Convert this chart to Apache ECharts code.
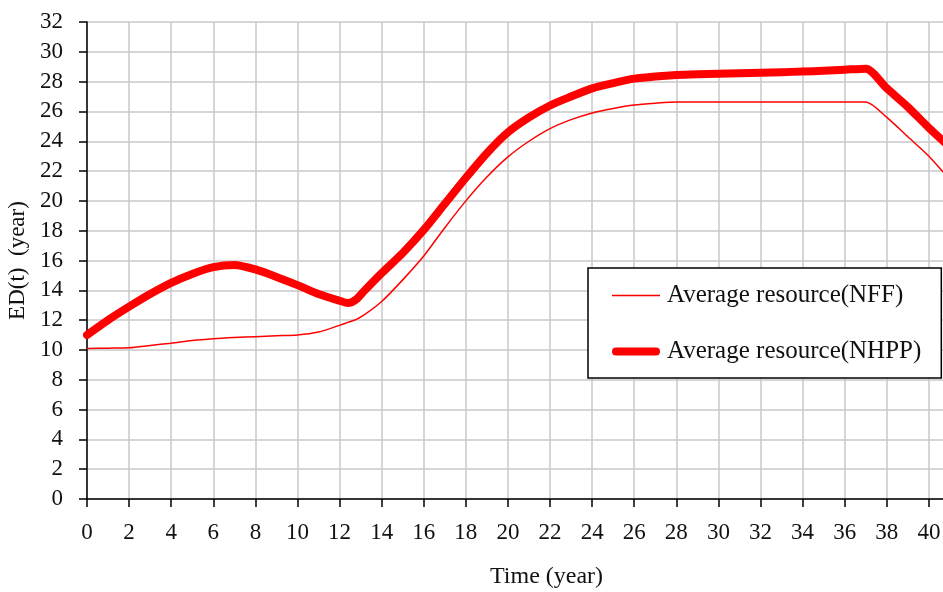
<!DOCTYPE html>
<html>
<head>
<meta charset="utf-8">
<script src="https://cdn.jsdelivr.net/npm/echarts@6/dist/echarts.min.js"></script>
<style>html,body{margin:0;padding:0;background:#fff;}#c{width:943px;height:592px;}</style>
</head>
<body>
<div id="c"></div>
<script>
const times = [0,1,2,3,4,5,6,7,8,9,10,11,12,12.4,12.8,13.2,14,15,16,17,18,19,20,21,22,23,24,25,26,27,28,29,30,31,32,33,34,35,36,37,38,39,40,41];
const nff   = [10.1,10.12,10.15,10.3,10.45,10.63,10.75,10.83,10.89,10.95,11.0,11.2,11.65,11.85,12.05,12.38,13.25,14.7,16.3,18.2,20.0,21.6,22.95,24.0,24.85,25.45,25.9,26.2,26.43,26.55,26.63,26.63,26.63,26.63,26.63,26.63,26.63,26.63,26.63,26.63,25.6,24.3,23.0,21.4];
const nhpp  = [11.0,12.0,12.9,13.75,14.5,15.1,15.55,15.7,15.4,14.9,14.35,13.75,13.3,13.15,13.4,14.0,15.15,16.5,18.05,19.8,21.55,23.2,24.6,25.6,26.4,27.0,27.55,27.9,28.2,28.35,28.45,28.5,28.53,28.56,28.6,28.63,28.68,28.73,28.8,28.87,27.55,26.3,24.9,23.6];
const seriesNames = ['Average resource(NFF)','Average resource(NHPP)'];
const xTitle = 'Time (year)';
const yTitle = 'ED(t)  (year)';

const font = "'Liberation Serif', serif";
const chart = echarts.init(document.getElementById('c'));
chart.setOption({
  animation: false,
  backgroundColor: '#fff',
  grid: { left: 87, top: 22, width: 884, height: 477, containLabel: false, outerBoundsMode: 'none' },
  xAxis: {
    type: 'value', min: 0, max: 42, interval: 2,
    axisLine: { show: true, onZero: false, lineStyle: { color: '#000', width: 1.5 } },
    axisTick: { show: true, inside: false, length: 8, lineStyle: { color: '#000', width: 1.5 } },
    axisLabel: { show: true, margin: 22, color: '#111', fontFamily: font, fontSize: 23, showMaxLabel: false },
    splitLine: { show: true, lineStyle: { color: '#c8c8c8', width: 1.5 } }
  },
  yAxis: {
    type: 'value', min: 0, max: 32, interval: 2,
    name: yTitle, nameLocation: 'middle', nameGap: 57, nameRotate: 90,
    nameTextStyle: { fontFamily: font, fontSize: 23, color: '#111' },
    axisLine: { show: true, onZero: false, lineStyle: { color: '#000', width: 1.5 } },
    axisTick: { show: true, inside: false, length: 8, lineStyle: { color: '#000', width: 1.5 } },
    axisLabel: { show: true, margin: 24, color: '#111', fontFamily: font, fontSize: 23 },
    splitLine: { show: true, lineStyle: { color: '#c8c8c8', width: 1.5 } }
  },
  legend: {
    show: true, orient: 'vertical', left: 588, top: 268,
    backgroundColor: '#fff', borderColor: '#000', borderWidth: 1.5, borderRadius: 0,
    padding: [15, 20, 14, 24], itemGap: 31, itemWidth: 48, itemHeight: 16,
    textStyle: { fontFamily: font, fontSize: 25, color: '#111', padding: [0,0,0,2] },
    data: [
      { name: seriesNames[0], icon: 'path://M0,7.25L48,7.25L48,8.75L0,8.75Z', itemStyle: { color: '#ff0000' } },
      { name: seriesNames[1], icon: 'path://M4,4L44,4A4,4,0,0,1,44,12L4,12A4,4,0,0,1,4,4Z', itemStyle: { color: '#ff0000' } }
    ]
  },
  graphic: [
    { type: 'text', left: 490, top: 565, style: { text: xTitle, fontFamily: font, fontSize: 24, fill: '#111' } }
  ],
  series: [
    { name: seriesNames[0], type: 'line', data: times.map((t,i)=>[t,nff[i]]), showSymbol: false, symbol: 'none',
      smooth: 0.25, lineStyle: { color: '#ff0000', width: 1.5 }, itemStyle: { color: '#ff0000' }, z: 3 },
    { name: seriesNames[1], type: 'line', data: times.map((t,i)=>[t,nhpp[i]]), showSymbol: false, symbol: 'none',
      smooth: 0.25, lineStyle: { color: '#ff0000', width: 8, join: 'round', cap: 'round' }, itemStyle: { color: '#ff0000' }, z: 4 }
  ]
});
</script>
</body>
</html>
